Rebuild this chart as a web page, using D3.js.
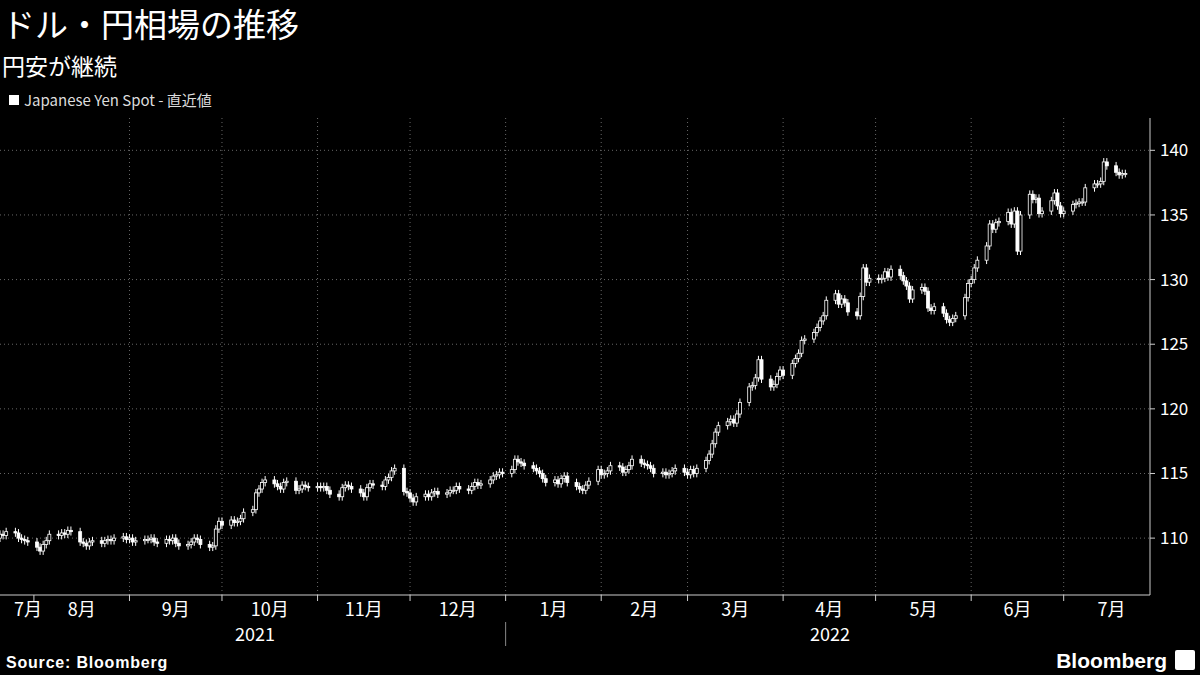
<!DOCTYPE html>
<html><head><meta charset="utf-8">
<script src="https://cdn.jsdelivr.net/npm/d3@7"></script>
<style>body{margin:0;background:#000}svg{display:block}</style>
</head><body><svg id="chart" width="1200" height="675"></svg>
<script>
// daily closes (weekdays from 2021-07-21)
var closes = [
 110.3,110.2,110.5,110.4,110.0,109.9,109.8,109.7,
 109.3,109.0,109.5,109.8,110.3,110.2,110.4,110.3,110.6,110.5,109.7,109.6,109.4,109.7,109.8,109.6,109.8,109.9,109.8,110.0,110.1,109.9,
 110.0,109.7,109.8,109.9,109.9,110.0,109.7,109.6,109.9,109.8,110.0,109.6,109.4,109.5,109.7,110.0,109.9,109.5,109.3,109.4,110.7,111.3,
 111.0,111.4,111.2,111.3,111.5,112.0,112.2,113.5,113.8,114.3,114.5,114.2,114.0,113.8,114.3,114.4,113.7,113.8,114.1,114.0,113.9,
 114.0,113.9,114.0,113.7,113.4,113.2,113.9,114.1,114.0,113.8,113.5,113.2,113.9,114.2,114.1,114.0,114.5,114.7,115.2,115.4,113.6,113.5,
 113.1,112.8,113.2,113.4,113.2,113.5,113.6,113.4,113.5,113.7,113.7,114.0,113.8,113.7,114.0,114.3,114.1,114.2,114.5,114.8,114.9,115.1,115.0,
 115.3,116.1,115.9,115.8,115.6,115.4,115.2,115.0,114.6,114.3,114.5,114.2,114.6,114.8,114.3,114.0,113.8,113.7,114.1,114.4,115.3,
 114.9,115.0,115.2,115.6,115.5,115.1,115.3,115.6,116.1,115.8,115.7,115.6,115.4,115.0,115.1,114.9,115.0,115.2,115.4,115.1,
 114.9,115.3,115.0,115.4,116.0,116.5,117.3,118.2,118.7,119.0,119.2,118.9,119.6,120.5,121.7,121.8,122.4,123.8,122.3,121.7,121.9,
 122.5,123.0,122.6,123.5,123.9,124.3,125.3,125.4,125.9,126.3,126.8,127.2,128.4,128.9,128.1,128.5,128.2,127.5,127.2,128.7,130.9,129.8,
 130.1,130.0,130.1,130.6,130.2,130.8,130.3,129.9,129.5,128.5,129.2,129.4,129.1,127.8,127.6,127.9,127.4,126.9,126.7,127.0,127.2,128.6,
 129.7,130.0,130.9,131.5,132.6,134.3,133.9,134.4,134.5,135.2,134.3,135.3,132.2,135.0,136.6,136.2,136.3,135.1,135.3,136.1,136.7,135.7,
 135.1,135.3,135.8,135.9,136.0,136.0,137.1,137.4,137.4,137.6,139.1,138.8,138.3,138.1,138.2,138.2
];
var firstOpen = 110.0;
var wick = 0.3;
var yTicks = [110,115,120,125,130,135,140];
var monthLabels = ["7月","8月","9月","10月","11月","12月","1月","2月","3月","4月","5月","6月","7月"];
var years = ["2021","2022"];

var svg = d3.select("#chart");
var L = 0, R = 1150, T = 118, B = 595;

// trading days
var days = [];
var d = new Date(2021,6,21);
while (days.length < closes.length) {
  if (d.getDay() != 0 && d.getDay() != 6) days.push(new Date(d));
  d = d3.timeDay.offset(d,1);
}
var data = closes.map(function(c,i){
  var o = i == 0 ? firstOpen : closes[i-1];
  return {date: days[i], o: o, c: c, h: Math.max(o,c)+wick, l: Math.min(o,c)-wick};
});

var x = d3.scaleTime().domain([new Date(2021,6,21), new Date(2022,6,29)]).range([L,R]);
var y = d3.scaleLinear().domain([105.6,142.5]).range([B,T]);

var font = "'Noto Sans CJK JP','Noto Sans',sans-serif";

// grid
svg.selectAll(".hg").data(yTicks).join("line")
  .attr("x1",L).attr("x2",R).attr("y1",d=>y(d)).attr("y2",d=>y(d))
  .attr("stroke","#666").attr("stroke-dasharray","1,3");
var months = d3.timeMonth.range(new Date(2021,7,1), new Date(2022,7,1));
svg.selectAll(".vg").data(months.slice(1)).join("line")
  .attr("x1",d=>x(d)).attr("x2",d=>x(d)).attr("y1",T).attr("y2",B)
  .attr("stroke","#666").attr("stroke-dasharray","1,3");

// axes lines
svg.append("line").attr("x1",L).attr("x2",R).attr("y1",B).attr("y2",B).attr("stroke","#ccc");
svg.append("line").attr("x1",R).attr("x2",R).attr("y1",T).attr("y2",B).attr("stroke","#ccc");
svg.selectAll(".yt").data(yTicks).join("line")
  .attr("x1",R).attr("x2",R+5).attr("y1",d=>y(d)).attr("y2",d=>y(d)).attr("stroke","#ccc");
svg.selectAll(".yl").data(yTicks).join("text")
  .attr("x",R+10).attr("y",d=>y(d)+6).text(d=>d)
  .attr("fill","#fff").attr("font-size",17).attr("font-family",font);
svg.selectAll(".xt").data(months).join("line")
  .attr("x1",d=>x(d)).attr("x2",d=>x(d)).attr("y1",B).attr("y2",B+6).attr("stroke","#ccc");

// month labels at month centres (first clipped to visible part)
var mStarts = [new Date(2021,6,21)].concat(months);
svg.selectAll(".ml").data(monthLabels).join("text")
  .attr("x",function(t,i){
    var a = mStarts[i], b = i+1 < mStarts.length ? mStarts[i+1] : new Date(2022,7,1);
    var cx = (x(a)+x(b))/2;
    return i == 0 ? 28 : cx;
  })
  .attr("y",616).attr("text-anchor","middle").text(d=>d)
  .attr("fill","#fff").attr("font-size",18).attr("font-family",font);
svg.append("text").attr("x",255).attr("y",641).attr("text-anchor","middle").text(years[0])
  .attr("fill","#fff").attr("font-size",18).attr("font-family",font);
svg.append("text").attr("x",830).attr("y",641).attr("text-anchor","middle").text(years[1])
  .attr("fill","#fff").attr("font-size",18).attr("font-family",font);
svg.append("line").attr("x1",x(new Date(2022,0,1))).attr("x2",x(new Date(2022,0,1)))
  .attr("y1",622).attr("y2",646).attr("stroke","#888");

// candles
var g = svg.append("g");
g.selectAll(".wk").data(data).join("line")
  .attr("x1",d=>x(d.date)).attr("x2",d=>x(d.date))
  .attr("y1",d=>y(d.h)).attr("y2",d=>y(d.l)).attr("stroke","#fff");
g.selectAll(".bd").data(data).join("rect")
  .attr("x",d=>x(d.date)-1.5).attr("width",3)
  .attr("y",d=>y(Math.max(d.o,d.c)))
  .attr("height",d=>Math.max(1,Math.abs(y(d.o)-y(d.c))))
  .attr("fill",d=>d.c>=d.o ? "#000" : "#fff").attr("stroke","#fff").attr("stroke-width",0.8);

// titles
svg.append("text").attr("x",2).attr("y",37).text("ドル・円相場の推移")
  .attr("fill","#fff").attr("font-size",33).attr("font-family",font);
svg.append("text").attr("x",2).attr("y",75).text("円安が継続")
  .attr("fill","#fff").attr("font-size",23).attr("font-family",font);
svg.append("rect").attr("x",9).attr("y",95).attr("width",10).attr("height",10).attr("fill","#fff");
svg.append("text").attr("x",24).attr("y",106).text("Japanese Yen Spot - 直近値")
  .attr("fill","#ddd").attr("font-size",15).attr("font-family",font);
svg.append("text").attr("x",6).attr("y",668).text("Source: Bloomberg")
  .attr("fill","#fff").attr("font-size",16).attr("font-weight","bold").attr("letter-spacing",0.8)
  .attr("font-family","'Liberation Sans',sans-serif");
svg.append("text").attr("x",1167).attr("y",668).attr("text-anchor","end").text("Bloomberg")
  .attr("fill","#fff").attr("font-size",21).attr("font-weight","bold").attr("font-family","'Liberation Sans',sans-serif");
svg.append("rect").attr("x",1175).attr("y",650).attr("width",20).attr("height",20).attr("fill","#fff").attr("rx",2);
</script></body></html>
